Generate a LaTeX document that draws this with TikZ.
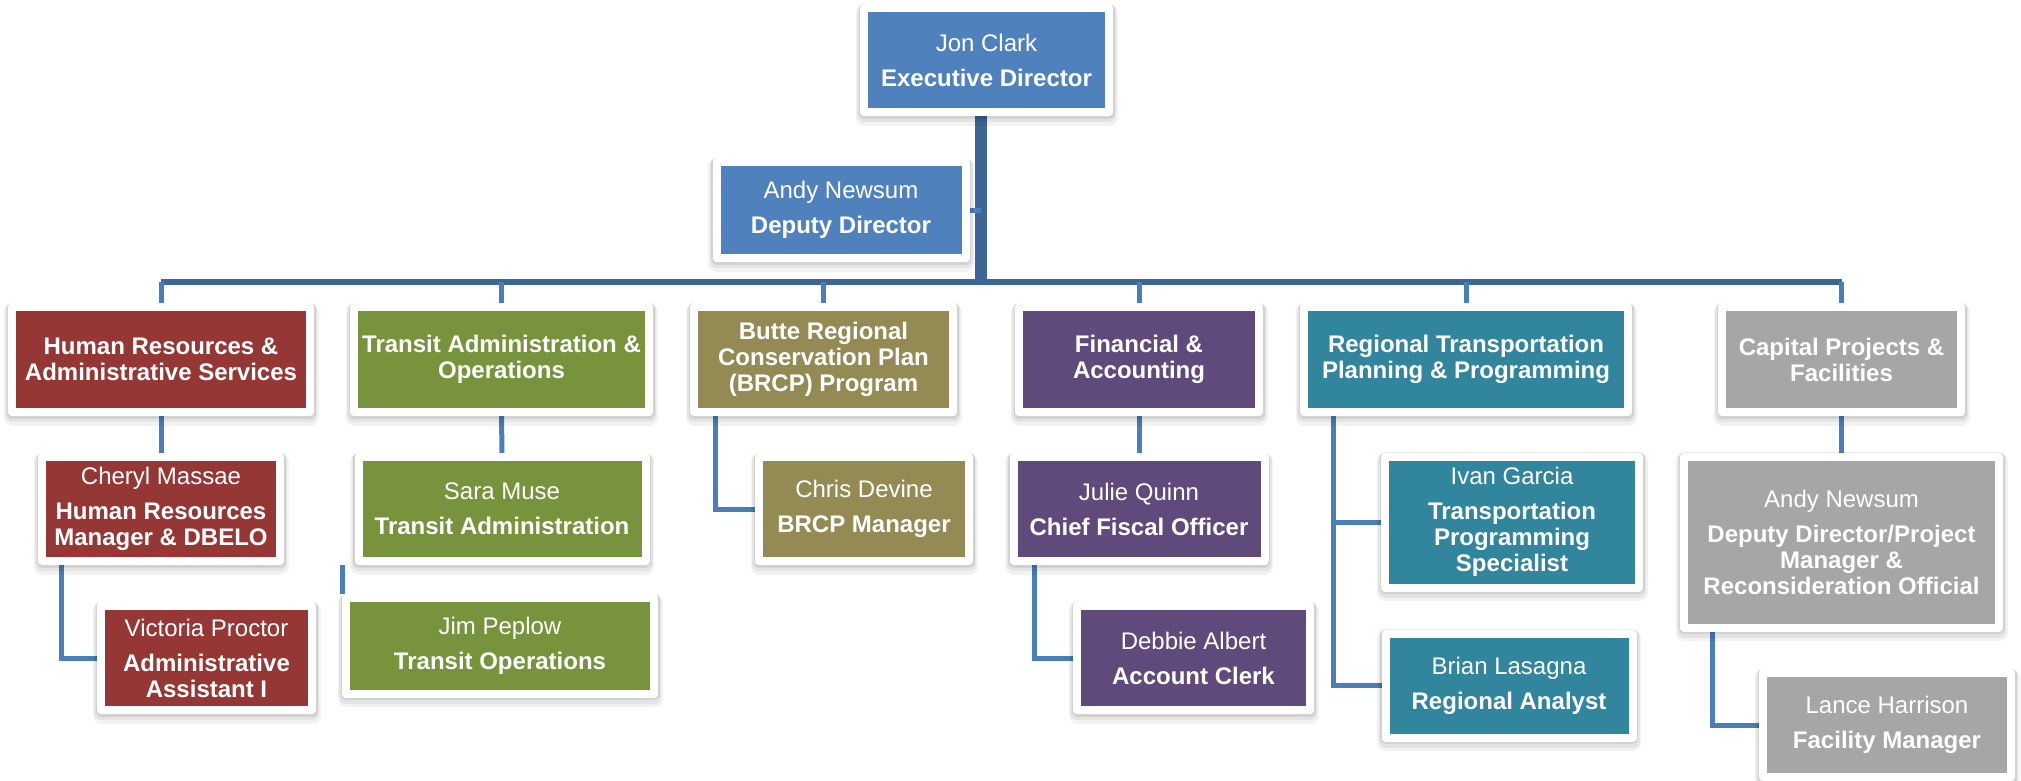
\documentclass[tikz,border=0pt]{standalone}
\usepackage{fontspec}
\setmainfont{Liberation Sans}
\usepackage{tikz}
\usetikzlibrary{positioning, calc}
\pgfdeclarelayer{background}
\pgfsetlayers{background,main}
\definecolor{dirblue}{HTML}{4F81BD}
\definecolor{hrred}{HTML}{953735}
\definecolor{trgreen}{HTML}{77933C}
\definecolor{brolive}{HTML}{948A54}
\definecolor{fapurple}{HTML}{604A7B}
\definecolor{rtteal}{HTML}{31859C}
\definecolor{cpgray}{HTML}{A6A6A6}
\definecolor{linkblue}{HTML}{4A7EBB}
\definecolor{barblue}{HTML}{3D6696}
\tikzset{
  box/.style={draw=white, line width=8pt, line join=round, text=white, align=center,
    inner sep=2pt, font=\fontsize{24}{26}\selectfont,
    preaction={draw=black, draw opacity=0.05, line width=17pt, line join=round, transform canvas={yshift=-5pt}},
    preaction={draw=black, draw opacity=0.06, line width=14pt, line join=round, transform canvas={yshift=-3pt}},
    preaction={draw=black, draw opacity=0.08, line width=11pt, line join=round, transform canvas={yshift=-1pt}}},
  head/.style={box, minimum height=105pt},
  staff/.style={box, minimum height=104pt},
  link/.style={draw=linkblue, line width=5pt},
  trunk/.style={draw=barblue, line width=12pt},
  bar/.style={draw=barblue, line width=6pt}
}

\begin{document}
\begin{tikzpicture}[x=1pt, y=-1pt]
      \useasboundingbox (0,0) rectangle (2021,780);

      \node[staff, fill=dirblue, minimum width=245pt] (ED1) at (986.5,60) {Jon Clark\\[9pt]\textbf{Executive Director}};
      \node[box, fill=dirblue, minimum width=249pt, minimum height=96pt] (DD1) at (841,210) {Andy Newsum\\[9pt]\textbf{Deputy Director}};

      \node[head, fill=hrred, minimum width=298pt] (HR1) at (161,359.5) {\textbf{Human Resources \&}\\\textbf{Administrative Services}};
      \node[head, fill=trgreen, minimum width=295pt] (TA1) at (501.5,359.5) {\textbf{Transit Administration \&}\\\textbf{Operations}};
      \node[head, fill=brolive, minimum width=259pt] (BR1) at (823.5,359.5) {\textbf{Butte Regional}\\\textbf{Conservation Plan}\\\textbf{(BRCP) Program}};
      \node[head, fill=fapurple, minimum width=240pt] (FA1) at (1139,359.5) {\textbf{Financial \&}\\\textbf{Accounting}};
      \node[head, fill=rtteal, minimum width=324pt] (RT1) at (1466,359.5) {\textbf{Regional Transportation}\\\textbf{Planning \& Programming}};
      \node[head, fill=cpgray, minimum width=239pt] (CP1) at (1841.5,359.5) {\textbf{Capital Projects \&}\\\textbf{Facilities}};

      \node[staff, fill=hrred, minimum width=238pt] (HR2) at (161,509) {Cheryl Massae\\[9pt]\textbf{Human Resources}\\\textbf{Manager \& DBELO}};
      \node[staff, fill=trgreen, minimum width=287pt] (TA2) at (502,509) {Sara Muse\\[9pt]\textbf{Transit Administration}};
      \node[staff, fill=brolive, minimum width=210pt] (BR2) at (864,509) {Chris Devine\\[9pt]\textbf{BRCP Manager}};
      \node[staff, fill=fapurple, minimum width=251pt] (FA2) at (1139,509) {Julie Quinn\\[9pt]\textbf{Chief Fiscal Officer}};
      \node[box, fill=rtteal, minimum width=254pt, minimum height=131pt] (RT2) at (1512,522) {Ivan Garcia\\[9pt]\textbf{Transportation}\\\textbf{Programming}\\\textbf{Specialist}};
      \node[box, fill=cpgray, minimum width=315pt, minimum height=171pt] (CP2) at (1841.5,542) {Andy Newsum\\[9pt]\textbf{Deputy Director/Project}\\\textbf{Manager \&}\\\textbf{Reconsideration Official}};

      \node[staff, fill=hrred, minimum width=211pt] (HR3) at (206.5,658) {Victoria Proctor\\[9pt]\textbf{Administrative}\\\textbf{Assistant I}};
      \node[box, fill=trgreen, minimum width=308pt, minimum height=95.5pt] (TA3) at (500,646) {Jim Peplow\\[9pt]\textbf{Transit Operations}};
      \node[staff, fill=fapurple, minimum width=233pt] (FA3) at (1193.5,658) {Debbie Albert\\[9pt]\textbf{Account Clerk}};
      \node[staff, fill=rtteal, minimum width=247pt] (RT3) at (1509,685.5) {Brian Lasagna\\[9pt]\textbf{Regional Analyst}};
      \node[staff, fill=cpgray, minimum width=248pt] (CP3) at (1887,725) {Lance Harrison\\[9pt]\textbf{Facility Manager}};

      \begin{pgfonlayer}{background}
      \coordinate (hub) at (981,282);
      \draw[trunk] (ED1.south -| hub) -- (hub);
      \draw[bar] (HR1.north |- hub) -- (CP1.north |- hub);
      \draw[link] (DD1.east) -- (DD1.east -| hub);
      \draw[link] (HR1.north |- hub) -- (HR1.north);
      \draw[link] (TA1.north |- hub) -- (TA1.north);
      \draw[link] (BR1.north |- hub) -- (BR1.north);
      \draw[link] (FA1.north |- hub) -- (FA1.north);
      \draw[link] (RT1.north |- hub) -- (RT1.north);
      \draw[link] (CP1.north |- hub) -- (CP1.north);
      \draw[link] (HR1.south) -- (HR2.north);
      \draw[link] ([xshift=23pt]HR2.south west) |- (HR3.west);
      \draw[link] (TA1.south) -- (TA2.north);
      \draw[link] (TA3.north west) -- (TA3.north west |- TA2.south);
      \draw[link] ([xshift=25pt]BR1.south west) |- (BR2.west);
      \draw[link] (FA1.south) -- (FA2.north);
      \draw[link] ([xshift=25pt]FA2.south west) |- (FA3.west);
      \draw[link] ([xshift=33pt]RT1.south west) |- (RT2.west);
      \draw[link] ([xshift=33pt]RT1.south west) |- (RT3.west);
      \draw[link] (CP1.south) -- (CP2.north);
      \draw[link] ([xshift=32pt]CP2.south west) |- (CP3.west);
      \end{pgfonlayer}
    \end{tikzpicture}
\end{document}
